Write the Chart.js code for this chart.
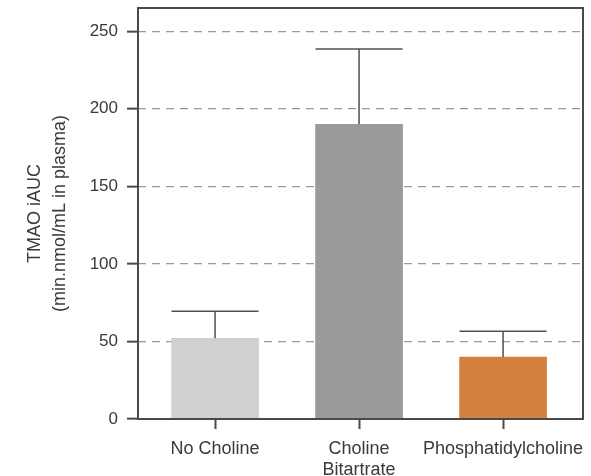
<!DOCTYPE html>
<html>
<head>
<meta charset="utf-8">
<script src="https://cdn.jsdelivr.net/npm/chart.js@4.4.1/dist/chart.umd.min.js"></script>
<style>
    html, body { margin: 0; padding: 0; background: #fff; }
    #wrap { width: 591px; height: 476px; }
</style>
</head>
<body>
<div id="wrap"><canvas id="tmaoChart" width="591" height="476"></canvas></div>
<script>
// Groups on the x axis (array = two-line label)
const categories = ['No Choline', ['Choline', 'Bitartrate'], 'Phosphatidylcholine'];
// Mean TMAO iAUC per group
const means = [52, 190, 40];
// Top of each error bar (mean + error)
const errorTops = [69.5, 238.5, 56.5];
// Bar fill per group
const barColors = ['#d0d0d0', '#9a9a9a', '#d4803f'];
// Tick values on the y axis
const yTicks = [0, 50, 100, 150, 200, 250];

const textColor = '#3a3a3a';
const axisColor = '#4a4a4a';

Chart.defaults.font.family = '"Liberation Sans", Arial, sans-serif';
Chart.defaults.color = textColor;

/**
 * Draw the whiskers + caps on top of the bars
 */
const errorBarPlugin = {
    id: 'errorBars',
    afterDatasetsDraw(chart) {
        const ctx = chart.ctx;
        const yScale = chart.scales.y;
        const meta = chart.getDatasetMeta(0);
        ctx.save();
        ctx.strokeStyle = '#505050';
        ctx.lineWidth = 1.5;
        meta.data.forEach((bar, i) => {
            const yMean = yScale.getPixelForValue(means[i]);
            const yTop = yScale.getPixelForValue(errorTops[i]);
            const half = bar.width / 2;
            ctx.beginPath();
            ctx.moveTo(bar.x, yMean);
            ctx.lineTo(bar.x, yTop);
            ctx.moveTo(bar.x - half, yTop);
            ctx.lineTo(bar.x + half, yTop);
            ctx.stroke();
        });
        ctx.restore();
    }
};

/**
 * Box around the plot area
 */
const framePlugin = {
    id: 'frame',
    afterDraw(chart) {
        const { ctx, chartArea: a } = chart;
        ctx.save();
        ctx.strokeStyle = axisColor;
        ctx.lineWidth = 2;
        ctx.strokeRect(a.left, a.top, a.right - a.left, a.bottom - a.top);
        ctx.restore();
    }
};

const ctx = document.getElementById('tmaoChart').getContext('2d');

new Chart(ctx, {
    type: 'bar',
    data: {
        datasets: [{
            data: categories.map((c, i) => ({ x: i, y: means[i] })),
            backgroundColor: barColors,
            borderWidth: 0,
            barThickness: 87
        }]
    },
    options: {
        responsive: false,
        animation: false,
        layout: {
            padding: { left: 22, right: 8, top: 8, bottom: 0 }
        },
        plugins: {
            legend: { display: false },
            tooltip: { enabled: false }
        },
        scales: {
            x: {
                type: 'linear',
                offset: false,
                min: -0.535,
                max: 2.555,
                afterBuildTicks: axis => {
                    axis.ticks = categories.map((c, i) => ({ value: i }));
                },
                afterFit: axis => {
                    axis.height = 57;
                    axis.paddingLeft = 0;
                    axis.paddingRight = 0;
                },
                grid: {
                    offset: false,
                    drawOnChartArea: false,
                    drawTicks: true,
                    tickLength: 10,
                    tickColor: axisColor,
                    tickWidth: 2
                },
                border: { display: false },
                ticks: {
                    padding: 9,
                    maxRotation: 0,
                    autoSkip: false,
                    color: textColor,
                    font: { size: 18, lineHeight: 1.2 },
                    callback: value => categories[value]
                }
            },
            y: {
                min: 0,
                max: 265,
                afterBuildTicks: axis => {
                    axis.ticks = yTicks.map(v => ({ value: v }));
                },
                afterFit: axis => {
                    axis.width = 116;
                    axis.paddingTop = 0;
                    axis.paddingBottom = 0;
                },
                grid: {
                    color: c => (c.tick && c.tick.value === 0) ? 'rgba(0,0,0,0)' : '#9a9a9a',
                    lineWidth: 1.3,
                    drawTicks: true,
                    tickLength: 11,
                    tickColor: axisColor,
                    tickWidth: 2
                },
                border: { display: false, dash: [8, 6] },
                ticks: {
                    padding: 9,
                    color: textColor,
                    font: { size: 17 }
                },
                title: {
                    display: true,
                    text: ['TMAO iAUC', '(min.nmol/mL in plasma)'],
                    color: textColor,
                    font: { size: 18, lineHeight: 1.4 },
                    padding: { top: 0, bottom: 0 }
                }
            }
        }
    },
    plugins: [errorBarPlugin, framePlugin]
});
</script>
</body>
</html>
